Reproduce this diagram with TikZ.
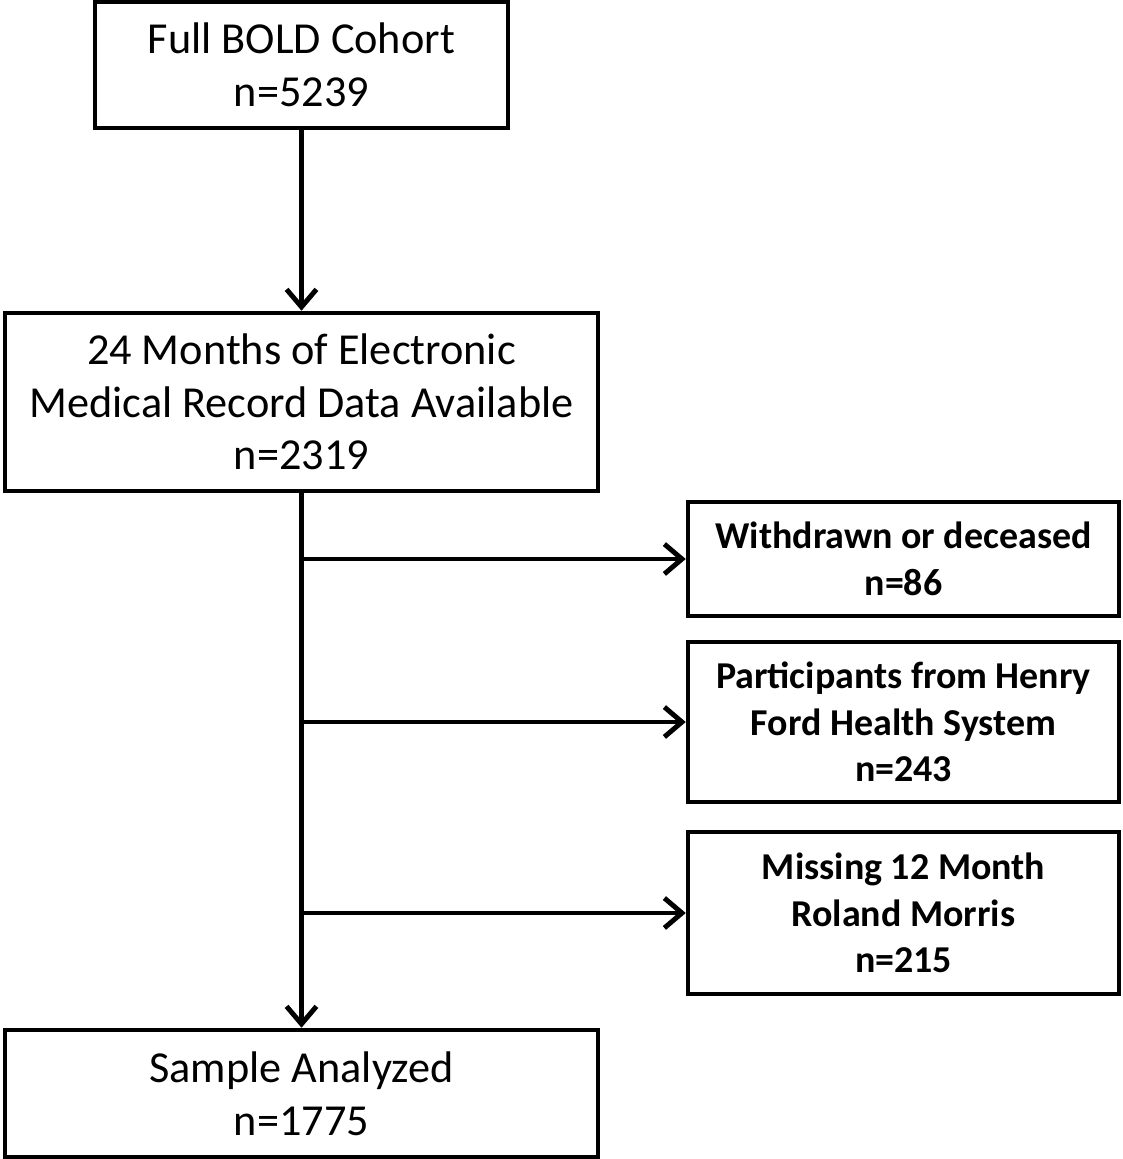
\documentclass[tikz,border=0pt]{standalone}
\usepackage{fontspec}
\setmainfont{Carlito}
\usetikzlibrary{positioning}
\usetikzlibrary{arrows.meta}

\tikzset{
  bigbox/.style={draw, line width=2.6pt, align=center, inner sep=0pt,
    font=\fontsize{25.2}{30}\selectfont},
  sidebox/.style={draw, line width=2.6pt, align=center, inner sep=0pt,
    minimum width=8.62cm, font=\fontsize{21.6}{26.6}\selectfont\bfseries},
  arr/.style={line width=2.8pt, -{Straight Barb[length=10pt,width=17pt,line width=2.8pt]}}
}

\begin{document}
\begin{tikzpicture}[x=0.02cm, y=-0.02cm]

\useasboundingbox (0,0) rectangle (1122,1159);

% main column
\node[bigbox, minimum width=8.26cm, minimum height=2.52cm] (full) at (301.5,65)
  {Full BOLD Cohort\\n=5239};
\node[bigbox, minimum width=11.86cm, minimum height=3.56cm] (emr) at (301.5,402)
  {24 Months of Electronic\\Medical Record Data Available\\n=2319};
\node[bigbox, minimum width=11.86cm, minimum height=2.54cm] (sample) at (301.5,1093.5)
  {Sample Analyzed\\n=1775};

% exclusions
\node[sidebox, minimum height=2.28cm] (withdrawn) at (903.5,559)
  {Withdrawn or deceased\\n=86};
\node[sidebox, minimum height=3.2cm] (henry) at (903.5,722)
  {Participants from Henry\\Ford Health System\\n=243};
\node[sidebox, minimum height=3.24cm] (missing) at (903.5,913)
  {Missing 12 Month\\Roland Morris\\n=215};

% connectors
\draw[arr] (full) -- (emr);
\draw[arr] (emr) -- (sample);
\foreach \b in {withdrawn, henry, missing}
  \draw[arr] (emr.south |- \b.west) -- (\b.west);

\end{tikzpicture}
\end{document}
